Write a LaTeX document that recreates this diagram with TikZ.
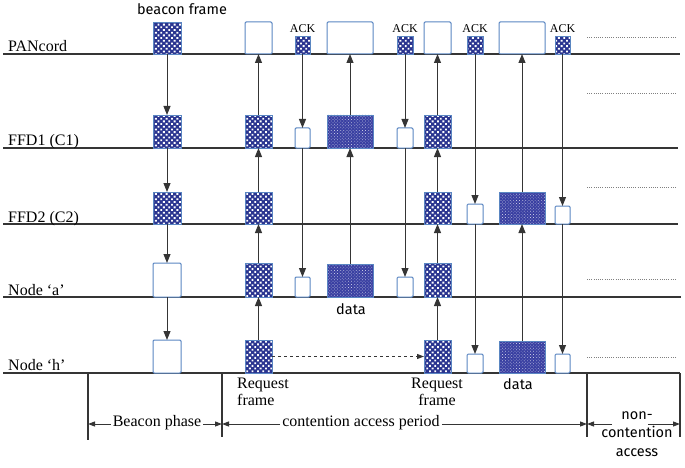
\documentclass[tikz,border=0pt]{standalone}
\usepackage{fontspec}
\setmainfont{Liberation Serif}
\newfontfamily\sansf{Fira Sans}
\usetikzlibrary{arrows.meta,patterns.meta}
\definecolor{hatchblue}{HTML}{2A3590}
\definecolor{datablue}{HTML}{3A40A2}
\definecolor{edgeblue}{HTML}{5A86C2}
\definecolor{lineg}{HTML}{353535}
\newcommand\mybox[6]{\node[#1, minimum width={(#4-#3)*1pt}, minimum height={(#6-#5)*1pt}] (#2) at (#3,#6) {};}
\begin{document}
\begin{tikzpicture}[x=1pt,y=-1pt,
  boxbase/.style={inner sep=0pt, outer sep=0pt, anchor=south west},
  hb/.style={boxbase, draw=edgeblue, line width=0.8pt, preaction={fill=hatchblue},
     pattern={Dots[distance=3.8pt,radius=1.3pt,angle=45]}, pattern color=white},
  db/.style={boxbase, draw=edgeblue, line width=0.8pt, preaction={fill=datablue},
     pattern={Dots[distance=2.2pt,radius=0.5pt,angle=45]}, pattern color=white!70!datablue},
  eb/.style={boxbase, draw=edgeblue, line width=1pt, fill=white, rounded corners=1.2pt},
  tl/.style={draw=lineg, line width=1.9pt},
  bl/.style={draw=lineg, line width=1.2pt},
  arr/.style={draw=lineg, line width=1pt, -{Triangle[length=9pt,width=7pt]}},
  dimarr/.style={draw=lineg, line width=1pt, -{Triangle[length=7pt,width=5pt]}},
  dotl/.style={draw=gray, line width=0.9pt, dash pattern=on 0.9pt off 1.3pt},
  lab/.style={font=\fontsize{16}{17}\selectfont, inner sep=0pt, anchor=base west},
  ack/.style={font=\fontsize{12}{13}\selectfont, inner sep=0pt, anchor=base},
  stx/.style={font=\sansf\fontsize{14.5}{18.5}\selectfont, inner sep=0pt}
]
\useasboundingbox (0,0) rectangle (685,468);

% horizontal time lines
\coordinate (p0) at (3,54);   \coordinate (p1) at (680,54);
\coordinate (f10) at (3,148); \coordinate (f11) at (678,148);
\coordinate (f20) at (3,224); \coordinate (f21) at (678,224);
\coordinate (a0) at (3,297);  \coordinate (a1) at (681,297);
\coordinate (h0) at (3,373);  \coordinate (h1) at (680,373);
\draw[tl] (p0) -- (p1);
\draw[tl] (f10) -- (f11);
\draw[tl] (f20) -- (f21);
\draw[tl] (a0) -- (a1);
\draw[tl] (h0) -- (h1);

% row labels
\node[lab] (lp) at (8,52) {PANcord};
\node[lab] (lf1) at (8,146) {FFD1 (C1)};
\node[lab] (lf2) at (8,222) {FFD2 (C2)};
\node[lab] (la) at (8,295) {Node ‘a’};
\node[lab] (lh) at (8,370) {Node ‘h’};

% dotted continuation lines
\coordinate (d1a) at (587,37);  \coordinate (d1b) at (677,37);
\coordinate (d2a) at (587,93);  \coordinate (d2b) at (677,93);
\coordinate (d3a) at (587,187); \coordinate (d3b) at (677,187);
\coordinate (d4a) at (587,279); \coordinate (d4b) at (677,279);
\coordinate (d5a) at (587,357); \coordinate (d5b) at (677,357);
\draw[dotl] (d1a) -- (d1b);
\draw[dotl] (d2a) -- (d2b);
\draw[dotl] (d3a) -- (d3b);
\draw[dotl] (d4a) -- (d4b);
\draw[dotl] (d5a) -- (d5b);

% beacon column
\mybox{hb}{pb}{153}{181}{22}{54}
\mybox{hb}{f1b}{153}{181}{115}{148}
\mybox{hb}{f2b}{153}{181}{192}{224}
\mybox{eb}{ab}{153}{181}{263}{297}
\mybox{eb}{hbx}{153}{181}{340}{373}
\node[stx, anchor=base] (bf) at (182,15) {beacon frame};

% request 1 column
\mybox{eb}{pr1}{245}{272}{22}{54}
\mybox{hb}{f1r1}{245}{272}{115}{148}
\mybox{hb}{f2r1}{245}{272}{192}{224}
\mybox{hb}{ar1}{245}{272}{263}{297}
\mybox{hb}{hr1}{245}{272}{340}{373}

% ACK 1 column
\mybox{hb}{pa1}{295}{310}{36}{54}
\mybox{eb}{f1a1}{295}{310}{128}{148}
\mybox{eb}{aa1}{295}{310}{277}{297}
\node[ack] (ack1) at (302.5,33) {ACK};

% data 1 column
\mybox{eb}{pd1}{327}{373}{22}{54}
\mybox{db}{f1d1}{327}{373}{115}{148}
\mybox{db}{ad1}{327}{373}{264}{297}
\node[stx, anchor=base] (dat1) at (351,314) {data};

% ACK 2 column
\mybox{hb}{pa2}{397}{413}{36}{54}
\mybox{eb}{f1a2}{397}{413}{128}{148}
\mybox{eb}{aa2}{397}{413}{277}{297}
\node[ack] (ack2) at (405,33) {ACK};

% request 2 column
\mybox{eb}{pr2}{424}{451}{22}{54}
\mybox{hb}{f1r2}{424}{451}{115}{148}
\mybox{hb}{f2r2}{424}{451}{192}{224}
\mybox{hb}{ar2}{424}{451}{263}{297}
\mybox{hb}{hr2}{424}{451}{340}{373}

% ACK 3 column
\mybox{hb}{pa3}{467}{483}{36}{54}
\mybox{eb}{f2a3}{467}{483}{204}{224}
\mybox{eb}{ha3}{467}{483}{354}{373}
\node[ack] (ack3) at (475,33) {ACK};

% data 2 column
\mybox{eb}{pd2}{499}{545}{22}{54}
\mybox{db}{f2d2}{499}{545}{192}{224}
\mybox{db}{hd2}{499}{545}{341}{373}
\node[stx, anchor=base] (dat2) at (518,389) {data};

% ACK 4 column
\mybox{hb}{pa4}{555}{570}{36}{54}
\mybox{eb}{f2a4}{555}{570}{206}{224}
\mybox{eb}{ha4}{555}{570}{354}{373}
\node[ack] (ack4) at (562.5,33) {ACK};

% arrows: beacon (downwards)
\draw[arr] (pb.south) -- (f1b.north);
\draw[arr] (f1b.south) -- (f2b.north);
\draw[arr] (f2b.south) -- (ab.north);
\draw[arr] (ab.south) -- (hbx.north);

% request 1 (upwards)
\draw[arr] (hr1.north) -- (ar1.south);
\draw[arr] (ar1.north) -- (f2r1.south);
\draw[arr] (f2r1.north) -- (f1r1.south);
\draw[arr] (f1r1.north) -- (pr1.south);

% ACK 1 (downwards)
\draw[arr] (pa1.south) -- (f1a1.north);
\draw[arr] (f1a1.south) -- (aa1.north);

% data 1 (upwards)
\draw[arr] (ad1.north) -- (f1d1.south);
\draw[arr] (f1d1.north) -- (pd1.south);

% ACK 2
\draw[arr] (pa2.south) -- (f1a2.north);
\draw[arr] (f1a2.south) -- (aa2.north);

% request 2
\draw[arr] (hr2.north) -- (ar2.south);
\draw[arr] (ar2.north) -- (f2r2.south);
\draw[arr] (f2r2.north) -- (f1r2.south);
\draw[arr] (f1r2.north) -- (pr2.south);

% ACK 3
\draw[arr] (pa3.south) -- (f2a3.north);
\draw[arr] (f2a3.south) -- (ha3.north);

% data 2
\draw[arr] (hd2.north) -- (f2d2.south);
\draw[arr] (f2d2.north) -- (pd2.south);

% ACK 4
\draw[arr] (pa4.south) -- (f2a4.north);
\draw[arr] (f2a4.south) -- (ha4.north);

% dashed retry arrow
\draw[dimarr, dash pattern=on 3pt off 3pt] (hr1.east) -- (hr2.west);

% request frame labels
\node[font=\fontsize{16}{17}\selectfont, align=left, anchor=north west, inner sep=0pt] (rq1) at (237,378) {Request\\frame};
\node[font=\fontsize{16}{17}\selectfont, align=center, anchor=north, inner sep=0pt] (rq2) at (437,378) {Request\\frame};

% phase boundaries
\coordinate (v1a) at (88,373);  \coordinate (v1b) at (88,440);
\coordinate (v2a) at (222,373); \coordinate (v2b) at (222,437);
\coordinate (v3a) at (587,373); \coordinate (v3b) at (587,437);
\coordinate (v4a) at (680,373); \coordinate (v4b) at (680,437);
\draw[bl] (v1a) -- (v1b);
\draw[bl] (v2a) -- (v2b);
\draw[bl] (v3a) -- (v3b);
\draw[bl] (v4a) -- (v4b);

% phase labels and dimension arrows
\node[font=\fontsize{16}{17}\selectfont, inner sep=2pt] (bp) at (157,423) {Beacon phase};
\coordinate (bpl) at (88,424); \coordinate (bpr) at (222,424);
\draw[dimarr] (bp.west |- bpl) -- (bpl);
\draw[dimarr] (bp.east |- bpr) -- (bpr);

\node[font=\fontsize{16}{17}\selectfont, inner sep=2pt] (cp) at (361,423) {contention access period};
\coordinate (cpl) at (222,424); \coordinate (cpr) at (587,424);
\draw[dimarr] (cp.west |- cpl) -- (cpl);
\draw[dimarr] (cp.east |- cpr) -- (cpr);

\node[stx, align=center, anchor=north] (nc) at (637,411) {non-\\contention\\access};
\coordinate (ncs1) at (612,424); \coordinate (ncl) at (587,424);
\coordinate (ncs2) at (648,424); \coordinate (ncr) at (680,424);
\draw[dimarr] (ncs1) -- (ncl);
\draw[dimarr] (ncs2) -- (ncr);
\end{tikzpicture}
\end{document}
